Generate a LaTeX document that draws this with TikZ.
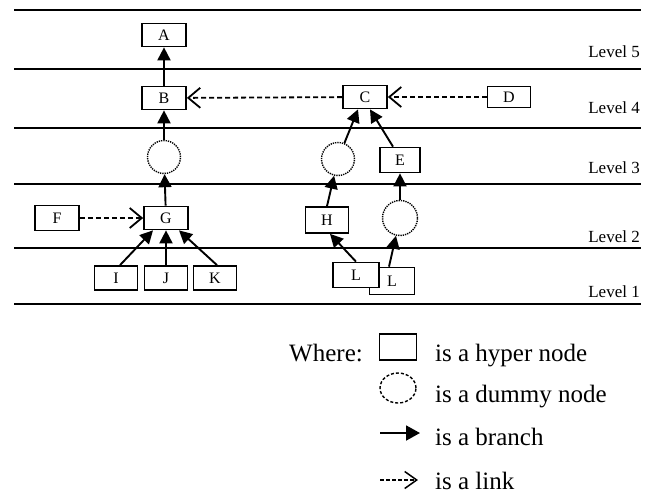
\documentclass[tikz,border=0pt]{standalone}
\usepackage{fontspec}
\setmainfont{Liberation Serif}
\usetikzlibrary{arrows.meta,shapes.geometric}
\begin{document}
\begin{tikzpicture}[x=1pt,y=-1pt,
 hyper/.style={draw,line width=1.7pt,fill=white,minimum width=44pt,minimum height=23pt,inner sep=0pt,font=\fontsize{16}{16}\selectfont},
 dummy/.style={draw,circle,line width=1.4pt,dash pattern=on 1.3pt off 1pt,minimum size=33pt,inner sep=0pt},
 branch/.style={line width=1.9pt,-{Triangle[length=13pt,width=13pt]}},
 link/.style={line width=1.8pt,dash pattern=on 5pt off 3pt,-{Straight Barb[length=12pt,width=20pt]}},
 levelline/.style={line width=2.3pt},
 lvl/.style={anchor=base east,inner sep=0pt,font=\fontsize{17}{17}\selectfont},
 leg/.style={anchor=base west,inner sep=0pt,font=\fontsize{25}{30}\selectfont}]
\useasboundingbox (0,0) rectangle (651,493);

% level lines
\foreach \yy in {10,69,128,184,248,304}{\draw[levelline] (14,\yy) -- (641,\yy);}

% level labels
\node[lvl] (l5) at (640,57) {Level 5};
\node[lvl] (l4) at (640,113) {Level 4};
\node[lvl] (l3) at (640,173) {Level 3};
\node[lvl] (l2) at (640,242) {Level 2};
\node[lvl] (l1) at (640,297) {Level 1};

% nodes
\node[hyper] (A) at (164,35) {A};
\node[hyper] (B) at (164,98) {B};
\node[hyper] (C) at (365,97) {C};
\node[hyper,minimum width=43pt,minimum height=21pt] (D) at (509,97) {D};
\node[dummy] (dL) at (164,157) {};
\node[dummy] (dR3) at (338,159) {};
\node[hyper,minimum width=40pt,minimum height=25pt] (E) at (400,160) {E};
\node[hyper,minimum height=25pt] (F) at (57,218) {F};
\node[hyper] (G) at (166,218) {G};
\node[hyper,minimum width=43pt,minimum height=26pt] (H) at (327,220) {H};
\node[dummy,minimum size=35pt] (dR2) at (400,218) {};
\node[hyper,minimum width=43pt,minimum height=24pt] (I) at (116,278) {I};
\node[hyper,minimum width=43pt,minimum height=24pt] (J) at (166,278) {J};
\node[hyper,minimum width=43pt,minimum height=24pt] (K) at (215,278) {K};
\node[hyper,minimum width=45pt,minimum height=27pt] (L2) at (392,281) {L};
\node[hyper,minimum width=46pt,minimum height=25pt] (L1) at (356,275) {L};

% branches
\draw[branch] (B) -- (A);
\draw[branch] (dL) -- (B);
\draw[branch] (G) -- (dL);
\draw[branch] ([xshift=4pt]I.north) -- ([xshift=-13pt]G.south);
\draw[branch] (J.north) -- (G.south);
\draw[branch] ([xshift=2pt]K.north) -- ([xshift=13pt]G.south);
\draw[branch] (dR3) -- ([xshift=-7pt]C.south);
\draw[branch] ([xshift=-7pt]E.north) -- ([xshift=5pt]C.south);
\draw[branch] (H.north) -- (dR3);
\draw[branch] (L1.north) -- ([xshift=3pt]H.south);
\draw[branch] ([xshift=-3pt]L2.north) -- (dR2);
\draw[branch] (dR2) -- (E);

% links
\draw[link] (D) -- (C);
\draw[link] (C) -- (B);
\draw[link] (F) -- (G);

% legend
\node[leg,anchor=base east] (where) at (363,361) {Where:};
\node[hyper,minimum width=37pt,minimum height=26pt,line width=1.5pt] (lbox) at (398,347) {};
\node[draw,ellipse,line width=1.4pt,dash pattern=on 3pt off 2pt,minimum width=36pt,minimum height=30pt,inner sep=0pt] (lcirc) at (398,388) {};
\coordinate (b1) at (380,433);
\coordinate (b2) at (420,433);
\draw[branch,-{Triangle[length=14pt,width=15pt]}] (b1) -- (b2);
\coordinate (k1) at (380,480);
\coordinate (k2) at (418,480);
\draw[line width=1.5pt,dash pattern=on 4pt off 2pt,-{Straight Barb[length=12pt,width=17pt]}] (k1) -- (k2);
\node[leg] (t1) at (435,361) {is a hyper node};
\node[leg] (t2) at (435,402) {is a dummy node};
\node[leg] (t3) at (435,445) {is a branch};
\node[leg] (t4) at (435,489) {is a link};
\end{tikzpicture}
\end{document}
